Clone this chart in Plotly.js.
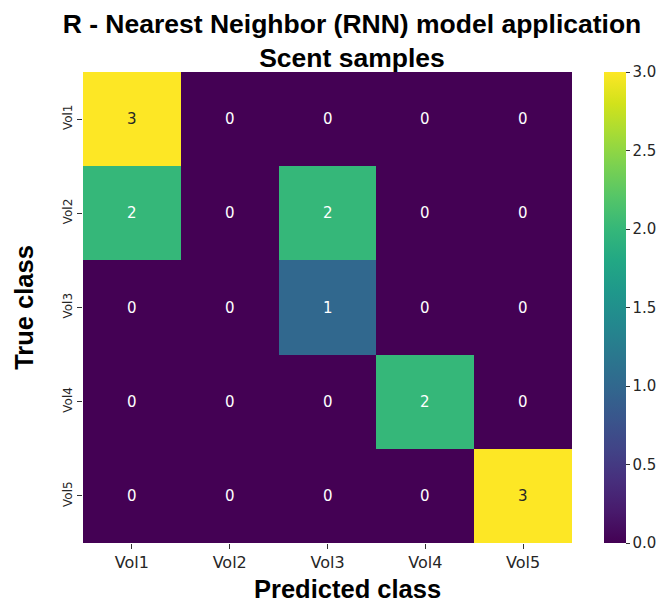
<!DOCTYPE html>
<html>
<head>
<meta charset="utf-8">
<script src="https://cdn.plot.ly/plotly-3.0.1.min.js"></script>
<style>html,body{margin:0;padding:0;background:#fff;}#chart{width:667px;height:603px;}</style>
</head>
<body>
<div id="chart"></div>
<script>
const predictedClasses = ["Vol1", "Vol2", "Vol3", "Vol4", "Vol5"];
const trueClasses = ["Vol1", "Vol2", "Vol3", "Vol4", "Vol5"];
const counts = [
  [3, 0, 0, 0, 0],
  [2, 0, 2, 0, 0],
  [0, 0, 1, 0, 0],
  [0, 0, 0, 2, 0],
  [0, 0, 0, 0, 3]
];
const colorbarTicks = [0, 0.5, 1, 1.5, 2, 2.5, 3];

const viridis = [
  [0.0, '#440154'], [0.0667, '#481a6c'], [0.1333, '#472f7d'], [0.2, '#414487'],
  [0.2667, '#39568c'], [0.3333, '#31688e'], [0.4, '#2a788e'], [0.4667, '#23888e'],
  [0.5333, '#1f988b'], [0.6, '#22a884'], [0.6667, '#35b779'], [0.7333, '#54c568'],
  [0.8, '#7ad151'], [0.8667, '#a5db36'], [0.9333, '#d2e21b'], [1.0, '#fde725']
];

const annotations = [];
counts.forEach((row, i) => {
  row.forEach((v, j) => {
    annotations.push({
      x: predictedClasses[j], y: trueClasses[i], xref: 'x', yref: 'y',
      text: String(v), showarrow: false,
      font: {family: 'DejaVu Sans', size: 15, color: v >= 2.5 ? '#262626' : '#ffffff'}
    });
  });
});
annotations.push({
  text: '<b>Predicted class</b>', showarrow: false,
  xref: 'paper', yref: 'paper', x: 0.54, y: -0.0987, xanchor: 'center', yanchor: 'middle',
  font: {family: 'Liberation Sans, Arial', size: 25.5, color: '#000'}
});

const trace = {
  type: 'heatmap',
  x: predictedClasses,
  y: trueClasses,
  z: counts,
  zmin: 0, zmax: 3,
  colorscale: viridis,
  xgap: 0, ygap: 0,
  hoverinfo: 'skip',
  colorbar: {
    x: 1.0654, xanchor: 'left', xref: 'paper', xpad: 0, ypad: 0,
    y: 0.5, yanchor: 'middle', len: 1, lenmode: 'fraction',
    thickness: 22, thicknessmode: 'pixels',
    outlinewidth: 0,
    tickvals: colorbarTicks,
    ticktext: colorbarTicks.map(t => t.toFixed(1)),
    ticks: 'outside', ticklen: 4, tickcolor: '#333',
    tickfont: {family: 'DejaVu Sans', size: 15, color: '#262626'}
  }
};

const layout = {
  width: 667, height: 603,
  margin: {l: 83, r: 95, t: 72, b: 60, autoexpand: false},
  paper_bgcolor: '#fff', plot_bgcolor: '#fff',
  title: {
    text: '<b>R - Nearest Neighbor (RNN) model application<br>Scent samples</b>',
    font: {family: 'Liberation Sans, Arial', size: 26.5, color: '#000'},
    x: 0.5277, xref: 'container', xanchor: 'center',
    y: 0.946, yref: 'container', yanchor: 'top'
  },
  xaxis: {
    type: 'category',
    showgrid: false, zeroline: false, showline: false,
    ticks: 'outside', ticklen: 5, tickcolor: '#333',
    tickfont: {family: 'DejaVu Sans', size: 16, color: '#262626'}
  },
  yaxis: {
    type: 'category', autorange: 'reversed',
    showgrid: false, zeroline: false, showline: false,
    ticks: 'outside', ticklen: 5, tickcolor: '#333',
    tickangle: -90,
    tickfont: {family: 'DejaVu Sans', size: 12, color: '#262626'},
    title: {text: '<b>True class</b>', font: {family: 'Liberation Sans, Arial', size: 25.5, color: '#000'}, standoff: 20}
  },
  annotations: annotations
};

Plotly.newPlot('chart', [trace], layout, {displayModeBar: false, staticPlot: true});
</script>
</body>
</html>
